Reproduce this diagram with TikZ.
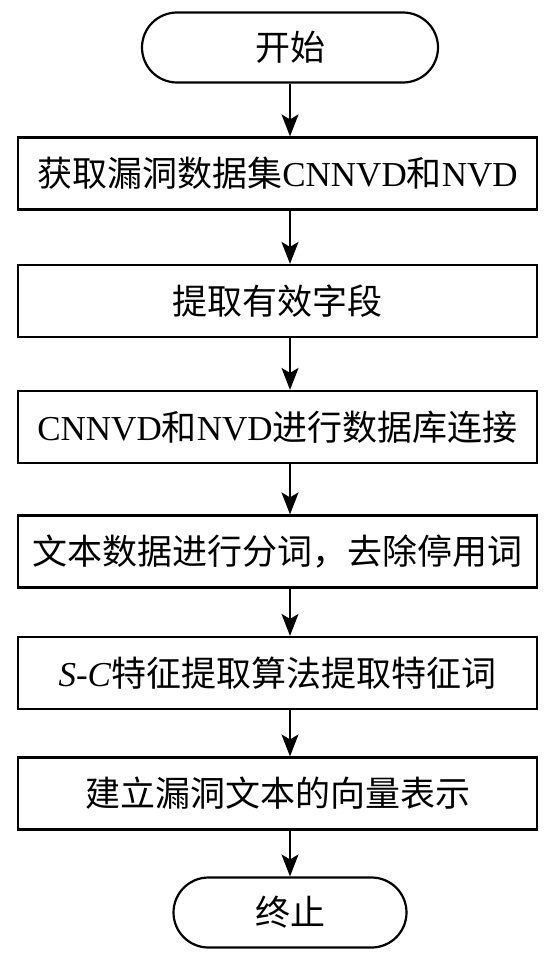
\documentclass[tikz,border=0pt]{standalone}
\usepackage{fontspec}
\setmainfont{Liberation Serif}
\newfontfamily\cjk{Noto Sans CJK SC}
\usetikzlibrary{arrows.meta}

\begin{document}
\begin{tikzpicture}
    [x=1pt,y=-1pt,
     post/.style={-{Stealth[length=22pt,width=17pt,inset=5pt]},line width=1.8pt},
     procbox/.style={draw,line width=2.2pt,minimum width=519pt,minimum height=72pt,inner sep=0pt},
     terminal/.style={draw,line width=2.2pt,rounded corners=35pt,minimum height=70pt,inner sep=0pt},
     font=\fontsize{35pt}{40pt}\selectfont]
    \useasboundingbox (0,0) rectangle (557,958);
    \node [terminal,minimum width=296pt] (s) at (290,47.5) {\cjk 开始};
    \node [procbox] (b1) at (277.5,173.5) {{\cjk 获取漏洞数据集}CNNVD{\cjk 和}NVD};
    \node [procbox] (b2) at (277.5,301) {\cjk 提取有效字段};
    \node [procbox] (b3) at (277.5,427) {CNNVD{\cjk 和}NVD{\cjk 进行数据库连接}};
    \node [procbox] (b4) at (277.5,551.5) {\cjk 文本数据进行分词，去除停用词};
    \node [procbox] (b5) at (277.5,673) {\textit{S-C}{\cjk 特征提取算法提取特征词}};
    \node [procbox] (b6) at (277.5,793.5) {\cjk 建立漏洞文本的向量表示};
    \node [terminal,minimum width=233pt] (e) at (290,912.5) {\cjk 终止};
    \draw [post] (s) -- (s |- b1.north);
    \draw [post] (b1.south -| s) -- (b2.north -| s);
    \draw [post] (b2.south -| s) -- (b3.north -| s);
    \draw [post] (b3.south -| s) -- (b4.north -| s);
    \draw [post] (b4.south -| s) -- (b5.north -| s);
    \draw [post] (b5.south -| s) -- (b6.north -| s);
    \draw [post] (b6.south -| e) -- (e);
  \end{tikzpicture}
\end{document}
